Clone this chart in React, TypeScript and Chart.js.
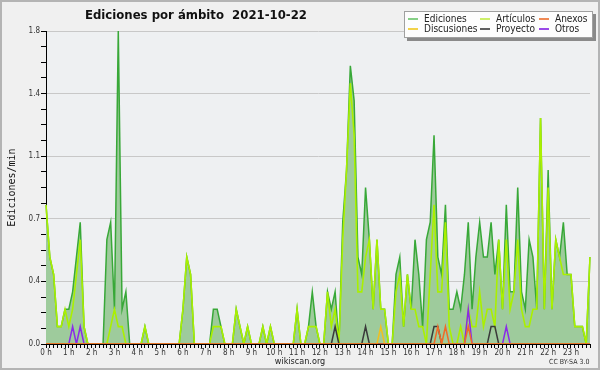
import React, { useEffect, useRef } from 'react';
import { Chart, registerables } from 'chart.js';

Chart.register(...registerables);

// Hour tick labels (one every 6 ten-minute slots)
const hourLabels = ['0 h', '1 h', '2 h', '3 h', '4 h', '5 h', '6 h', '7 h', '8 h', '9 h', '10 h', '11 h',
  '12 h', '13 h', '14 h', '15 h', '16 h', '17 h', '18 h', '19 h', '20 h', '21 h', '22 h', '23 h'];
const yTickLabels = ['0.0', '0.4', '0.7', '1.1', '1.4', '1.8'];
const yMax = 1.8;
const yMinorCount = 20;

// Ten-minute slots (6 per hour)
const slots: string[] = [];
for (let h = 0; h < 24; h++) for (let m = 0; m < 60; m += 10) slots.push(`${h}:${m === 0 ? '00' : m}`);

const ediciones = [
  0.8, 0.5, 0.4, 0.1, 0.1, 0.2,
  0.2, 0.3, 0.5, 0.7, 0.1, 0,
  0, 0, 0, 0, 0.6, 0.7,
  0.2, 1.8, 0.2, 0.3, 0, 0,
  0, 0, 0.1, 0, 0, 0,
  0, 0, 0, 0, 0, 0,
  0.2, 0.5, 0.4, 0, 0, 0,
  0, 0, 0.2, 0.2, 0.1, 0,
  0, 0, 0.2, 0.1, 0, 0.1,
  0, 0, 0, 0.1, 0, 0.1,
  0, 0, 0, 0, 0, 0,
  0.2, 0, 0, 0.1, 0.3, 0.1,
  0, 0, 0.3, 0.2, 0.3, 0,
  0.7, 1.0, 1.6, 1.4, 0.5, 0.4,
  0.9, 0.6, 0.2, 0.6, 0.2, 0.2,
  0, 0, 0.4, 0.5, 0.1, 0.4,
  0.2, 0.6, 0.4, 0.1, 0.6, 0.7,
  1.2, 0.5, 0.4, 0.8, 0.2, 0.2,
  0.3, 0.2, 0.4, 0.7, 0.2, 0.5,
  0.7, 0.5, 0.5, 0.7, 0.4, 0.6,
  0.2, 0.8, 0.3, 0.3, 0.9, 0.3,
  0.2, 0.6, 0.5, 0.2, 1.3, 0.2,
  1.0, 0.2, 0.6, 0.5, 0.7, 0.4,
  0.4, 0.1, 0.1, 0.1, 0, 0.5,
];

const articulos = [
  0.8, 0.5, 0.4, 0.1, 0.1, 0.2,
  0.1, 0.2, 0.4, 0.6, 0.1, 0,
  0, 0, 0, 0, 0, 0.1,
  0.2, 0.1, 0.1, 0, 0, 0,
  0, 0, 0.1, 0, 0, 0,
  0, 0, 0, 0, 0, 0,
  0.2, 0.5, 0.4, 0, 0, 0,
  0, 0, 0.1, 0.1, 0.1, 0,
  0, 0, 0.2, 0.1, 0, 0.1,
  0, 0, 0, 0.1, 0, 0.1,
  0, 0, 0, 0, 0, 0,
  0.2, 0, 0, 0.1, 0.1, 0.1,
  0, 0, 0.3, 0.1, 0.2, 0,
  0.6, 1.0, 1.5, 1.2, 0.3, 0.3,
  0.5, 0.6, 0.2, 0.6, 0.2, 0.2,
  0, 0, 0.3, 0.4, 0.1, 0.4,
  0.2, 0.2, 0.1, 0.1, 0, 0.4,
  0.8, 0.3, 0.3, 0.7, 0.1, 0,
  0, 0.1, 0, 0.2, 0.1, 0.1,
  0.3, 0.1, 0.2, 0.2, 0.1, 0.6,
  0.2, 0.6, 0.2, 0.3, 0.6, 0.2,
  0.1, 0.1, 0.2, 0.2, 1.3, 0.2,
  0.9, 0.2, 0.6, 0.5, 0.4, 0.4,
  0.4, 0.1, 0.1, 0.1, 0, 0.5,
];

const anexos = [
  0, 0, 0, 0, 0, 0, 0, 0, 0, 0, 0, 0,
  0, 0, 0, 0, 0, 0, 0, 0, 0, 0, 0, 0,
  0, 0, 0, 0, 0, 0, 0, 0, 0, 0, 0, 0,
  0, 0, 0, 0, 0, 0, 0, 0, 0, 0, 0, 0,
  0, 0, 0, 0, 0, 0, 0, 0, 0, 0, 0, 0,
  0, 0, 0, 0, 0, 0, 0, 0, 0, 0, 0, 0,
  0, 0, 0, 0, 0, 0, 0, 0, 0, 0, 0, 0,
  0, 0, 0, 0, 0, 0, 0, 0, 0, 0, 0, 0,
  0, 0, 0, 0, 0, 0, 0, 0.1, 0, 0.1, 0, 0,
  0, 0, 0, 0.1, 0, 0, 0, 0, 0, 0, 0, 0,
  0, 0, 0, 0, 0, 0, 0, 0, 0, 0, 0, 0,
  0, 0, 0, 0, 0, 0, 0, 0, 0, 0, 0, 0,
];

const discusiones = [
  0, 0, 0, 0, 0, 0, 0, 0, 0, 0, 0, 0,
  0, 0, 0, 0, 0, 0, 0, 0, 0, 0, 0, 0,
  0, 0, 0, 0, 0, 0, 0, 0, 0, 0, 0, 0,
  0, 0, 0, 0, 0, 0, 0, 0, 0, 0, 0, 0,
  0, 0, 0, 0, 0, 0, 0, 0, 0, 0, 0, 0,
  0, 0, 0, 0, 0, 0, 0, 0, 0, 0, 0, 0,
  0, 0, 0, 0, 0, 0, 0, 0, 0, 0, 0, 0,
  0, 0, 0, 0, 0.1, 0, 0, 0, 0, 0, 0, 0,
  0, 0, 0, 0, 0, 0, 0, 0, 0, 0, 0, 0,
  0, 0, 0, 0, 0, 0, 0, 0, 0, 0, 0, 0,
  0, 0, 0, 0, 0, 0, 0, 0, 0, 0, 0, 0,
  0, 0, 0, 0, 0, 0, 0, 0, 0, 0, 0, 0,
];

const proyecto = [
  0, 0, 0, 0, 0, 0, 0, 0, 0, 0, 0, 0,
  0, 0, 0, 0, 0, 0, 0, 0, 0, 0, 0, 0,
  0, 0, 0, 0, 0, 0, 0, 0, 0, 0, 0, 0,
  0, 0, 0, 0, 0, 0, 0, 0, 0, 0, 0, 0,
  0, 0, 0, 0, 0, 0, 0, 0, 0, 0, 0, 0,
  0, 0, 0, 0, 0, 0, 0, 0, 0, 0, 0, 0,
  0, 0, 0, 0, 0.1, 0, 0, 0, 0, 0, 0, 0,
  0.1, 0, 0, 0, 0, 0, 0, 0, 0, 0, 0, 0,
  0, 0, 0, 0, 0, 0, 0.1, 0.1, 0, 0, 0, 0,
  0, 0, 0, 0, 0, 0, 0, 0, 0, 0.1, 0.1, 0,
  0, 0, 0, 0, 0, 0, 0, 0, 0, 0, 0, 0,
  0, 0, 0, 0, 0, 0, 0, 0, 0, 0, 0, 0,
];

const otros = [
  0, 0, 0, 0, 0, 0, 0, 0.1, 0, 0.1, 0, 0,
  0, 0, 0, 0, 0, 0, 0, 0, 0, 0, 0, 0,
  0, 0, 0, 0, 0, 0, 0, 0, 0, 0, 0, 0,
  0, 0, 0, 0, 0, 0, 0, 0, 0, 0, 0, 0,
  0, 0, 0, 0, 0, 0, 0, 0, 0, 0, 0, 0,
  0, 0, 0, 0, 0, 0, 0, 0, 0, 0, 0, 0,
  0, 0, 0, 0, 0, 0, 0, 0, 0, 0, 0, 0,
  0, 0, 0, 0, 0, 0, 0, 0, 0, 0, 0, 0,
  0, 0, 0, 0, 0, 0, 0, 0, 0, 0, 0, 0,
  0, 0, 0, 0.2, 0, 0, 0, 0, 0, 0, 0, 0,
  0, 0.1, 0, 0, 0, 0, 0, 0, 0, 0, 0, 0,
  0, 0, 0, 0, 0, 0, 0, 0, 0, 0, 0, 0,
];

const FONT = '"DejaVu Sans Condensed", "DejaVu Sans", sans-serif';

const legendItems = [
  { label: 'Ediciones', color: '#86cf86', x: 408, y: 19 },
  { label: 'Artículos', color: '#cdef6a', x: 480, y: 19 },
  { label: 'Anexos', color: '#f08a55', x: 539, y: 19 },
  { label: 'Discusiones', color: '#f2d24a', x: 408, y: 29 },
  { label: 'Proyecto', color: '#606060', x: 480, y: 29 },
  { label: 'Otros', color: '#9a4ae8', x: 539, y: 29 },
];

const bgPlugin = {
  id: 'bgPlugin',
  beforeDraw(chart: any) {
    const { ctx, chartArea: a } = chart;
    ctx.save();
    ctx.fillStyle = '#f0f0f0';
    ctx.fillRect(0, 0, chart.width, chart.height);
    ctx.fillStyle = '#eef0f2';
    ctx.fillRect(a.left, a.top, a.right - a.left, a.bottom - a.top);
    ctx.restore();
  },
};

export default function App() {
  const ref = useRef<HTMLCanvasElement | null>(null);

  useEffect(() => {
    document.body.style.margin = '0';
    if (!ref.current) return;
    const line = (label: string, data: number[], color: string, order: number, extra: any = {}) => ({
      label, data, borderColor: color, backgroundColor: color, borderWidth: 1.5,
      pointRadius: 0, tension: 0, fill: false, order, ...extra,
    });
    const chart = new Chart(ref.current, {
      type: 'line',
      data: {
        labels: slots,
        datasets: [
          line('Ediciones', ediciones, '#38a838', 10, { fill: 'origin', backgroundColor: '#9ecb9c' }),
          line('Artículos', articulos, '#aaf000', 5, { borderWidth: 1.6 }),
          line('Anexos', anexos, '#f06a28', 1),
          line('Discusiones', discusiones, '#f0c020', 1),
          line('Proyecto', proyecto, '#3a3a3a', 1),
          line('Otros', otros, '#8a2be8', 1),
        ],
      },
      options: {
        responsive: false,
        animation: false,
        layout: { padding: { top: 31, right: 10, left: 0, bottom: 0 } },
        plugins: { legend: { display: false }, tooltip: { enabled: false }, title: { display: false } },
        scales: {
          x: {
            type: 'category',
            offset: false,
            grid: { drawOnChartArea: false, drawTicks: true, tickLength: 4, tickColor: '#000', tickWidth: 1 },
            border: { color: '#000', width: 1 },
            ticks: {
              autoSkip: false, maxRotation: 0, minRotation: 0, padding: 0,
              color: '#333', font: { family: FONT, size: 8 },
              callback: (_v: any, i: number) => (i % 6 === 0 ? hourLabels[i / 6] : ''),
            },
            afterFit: (s: any) => { s.height = 26; s.paddingLeft = 0; s.paddingRight = 0; },
          },
          y: {
            min: 0, max: yMax,
            afterBuildTicks: (axis: any) => {
              axis.ticks = Array.from({ length: yMinorCount + 1 }, (_, k) => ({ value: (k * yMax) / yMinorCount }));
            },
            grid: {
              drawTicks: true, tickLength: 5, tickColor: '#000',
              color: (c: any) => (c.index % 4 === 0 ? '#c8c8c8' : 'rgba(0,0,0,0)'),
            },
            border: { color: '#000', width: 1 },
            ticks: {
              padding: 1, color: '#333', font: { family: FONT, size: 8 },
              callback: (_v: any, i: number) => (i % 4 === 0 ? yTickLabels[i / 4] : ''),
            },
            title: {
              display: true, text: 'Ediciones/min', color: '#111',
              font: { family: '"DejaVu Sans Mono", monospace', size: 10 },
              padding: { top: 6, bottom: 0 },
            },
            afterFit: (s: any) => { s.width = 46; s.paddingTop = 0; s.paddingBottom = 0; },
          },
        },
      },
      plugins: [bgPlugin],
    } as any);
    return () => chart.destroy();
  }, []);

  return (
    <div style={{ position: 'relative', width: 600, height: 370, overflow: 'hidden', fontFamily: FONT }}>
      <canvas ref={ref} width={600} height={370} style={{ position: 'absolute', left: 0, top: 0 }} />
      <div style={{ position: 'absolute', left: 0, top: 0, width: 600, height: 370, boxSizing: 'border-box', border: '2px solid #b4b4b4', pointerEvents: 'none' }} />
      <div style={{ position: 'absolute', left: 85, top: 8, fontSize: 13, fontWeight: 'bold', color: '#111', whiteSpace: 'pre', lineHeight: '14px', fontStretch: 'condensed' }}>
        {'Ediciones por ámbito  2021-10-22'}
      </div>
      <div style={{ position: 'absolute', left: 404, top: 11, width: 187, height: 25, background: '#fdfdfd', border: '1px solid #a0a0a0', boxShadow: '3px 3px 0 #8a8a8a' }} />
      {legendItems.map((it) => (
        <React.Fragment key={it.label}>
          <div style={{ position: 'absolute', left: it.x, top: it.y - 1, width: 10, height: 1.5, background: it.color }} />
          <div style={{ position: 'absolute', left: it.x + 16, top: it.y - 6, fontSize: 10, lineHeight: '11px', color: '#222', whiteSpace: 'pre', fontStretch: 'condensed' }}>
            {it.label}
          </div>
        </React.Fragment>
      ))}
      <div style={{ position: 'absolute', left: 0, width: 600, top: 356, textAlign: 'center', fontSize: 9, lineHeight: '10px', color: '#222', fontStretch: 'condensed' }}>
        wikiscan.org
      </div>
      <div style={{ position: 'absolute', left: 549, top: 358, fontSize: 7, lineHeight: '8px', color: '#333', whiteSpace: 'pre', fontStretch: 'condensed' }}>
        CC BY-SA 3.0
      </div>
    </div>
  );
}
